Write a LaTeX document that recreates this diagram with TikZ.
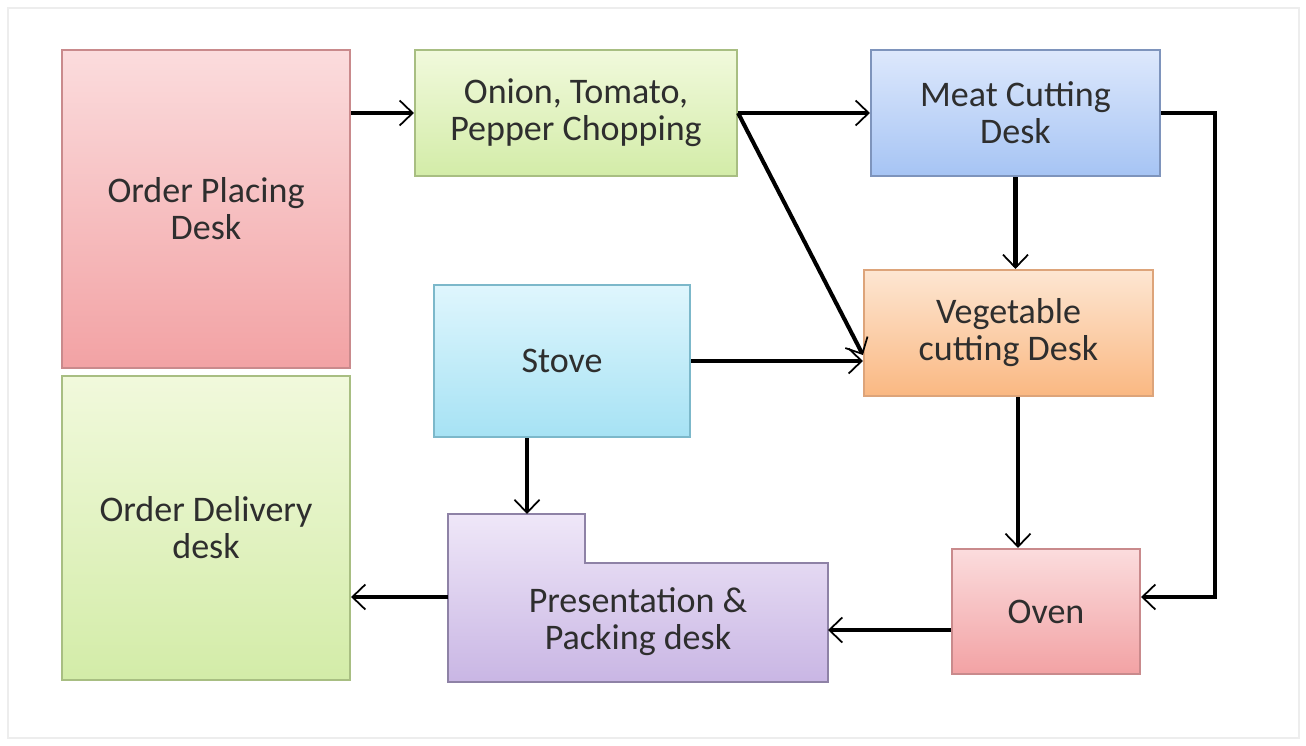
\documentclass[tikz,border=0pt]{standalone}
\usepackage{fontspec}
\setmainfont{Carlito}
\usepackage{tikz}
\usetikzlibrary{arrows.meta,positioning,calc}
\definecolor{txtgray}{HTML}{2E2E2E}
\definecolor{redtop}{HTML}{FBDCDD}
\definecolor{redbot}{HTML}{F2A2A4}
\definecolor{redline}{HTML}{C98A8C}
\definecolor{greentop}{HTML}{F1F9DC}
\definecolor{greenbot}{HTML}{D3ECA8}
\definecolor{greenline}{HTML}{A8BE82}
\definecolor{bluetop}{HTML}{DDE8FC}
\definecolor{bluebot}{HTML}{A6C4F4}
\definecolor{blueline}{HTML}{7E94BC}
\definecolor{orangetop}{HTML}{FDE6D2}
\definecolor{orangebot}{HTML}{FAB882}
\definecolor{orangeline}{HTML}{DDA47A}
\definecolor{cyantop}{HTML}{DFF6FD}
\definecolor{cyanbot}{HTML}{A6E2F4}
\definecolor{cyanline}{HTML}{7CB8CA}
\definecolor{purptop}{HTML}{EFE7F8}
\definecolor{purpbot}{HTML}{C9B6E4}
\definecolor{purpline}{HTML}{8E82A6}
\tikzset{
  desk/.style={rectangle, line width=1.2pt, align=center, text=txtgray,
    font=\fontsize{20.5}{21}\selectfont},
  reddesk/.style={desk, draw=redline, top color=redtop, bottom color=redbot},
  greendesk/.style={desk, draw=greenline, top color=greentop, bottom color=greenbot},
  bluedesk/.style={desk, draw=blueline, top color=bluetop, bottom color=bluebot},
  orangedesk/.style={desk, draw=orangeline, top color=orangetop, bottom color=orangebot},
  cyandesk/.style={desk, draw=cyanline, top color=cyantop, bottom color=cyanbot},
  flow/.style={line width=2.3pt, -{Straight Barb[length=2.6mm,width=5mm,line width=1pt]}}
}
\begin{document}
\begin{tikzpicture}[x=0.2mm,y=-0.2mm]
	\useasboundingbox (0,0) rectangle (1306,746);
	\fill[white] (0,0) rectangle (1306,746);
	\draw[black!7, line width=0.8pt] (8,8) rectangle (1299,738);
	% desks
	\node[reddesk, minimum width=57.6mm, minimum height=63.6mm] (place) at (206,209) {Order Placing\\Desk};
	\node[greendesk, minimum width=64.4mm, minimum height=25.2mm] (onion) at (576,113) {Onion, Tomato,\\Pepper Chopping};
	\node[bluedesk, minimum width=57.8mm, minimum height=25.2mm] (meat) at (1015.5,113) {Meat Cutting\\Desk};
	\node[orangedesk, minimum width=57.8mm, minimum height=25.2mm] (veg) at (1008.5,333) {Vegetable\\cutting Desk};
	\node[cyandesk, minimum width=51.2mm, minimum height=30.4mm] (stove) at (562,361) {Stove};
	\node[greendesk, minimum width=57.6mm, minimum height=60.8mm] (deliv) at (206,528) {Order Delivery\\desk};
	\node[reddesk, minimum width=37.6mm, minimum height=25mm] (oven) at (1046,611.5) {Oven};
	% presentation desk (notched)
	\draw[line width=1.2pt, draw=purpline, top color=purptop, bottom color=purpbot]
		(448,514) -- (585,514) -- (585,563) -- (828,563) -- (828,682) -- (448,682) -- cycle;
	\node[desk] (pres) at (638,622) {Presentation \&\\Packing desk};
	\coordinate (presN) at (527,514);
	\coordinate (presE) at (828,630);
	\coordinate (presW) at (448,597);
	\coordinate (loop) at (1215,597);
	% flows
	\draw[flow] (place.east |- onion) -- (onion.west);
	\draw[flow] (onion.east) -- (meat.west);
	\draw[flow] (onion.east) -- ([yshift=-4.4mm]veg.west);
	\draw[flow] (stove.east) -- (stove.east -| veg.west);
	\draw[flow] (meat.south) -- (meat.south |- veg.north);
	\draw[flow] (meat.east) -| (loop) -- (loop -| oven.east);
	\draw[flow] ([xshift=1.9mm]veg.south) -- ([xshift=1.9mm]veg.south |- oven.north);
	\draw[flow] (oven.west |- presE) -- (presE);
	\draw[flow] (stove.south -| presN) -- (presN);
	\draw[flow] (presW) -- (presW -| deliv.east);
\end{tikzpicture}
\end{document}
